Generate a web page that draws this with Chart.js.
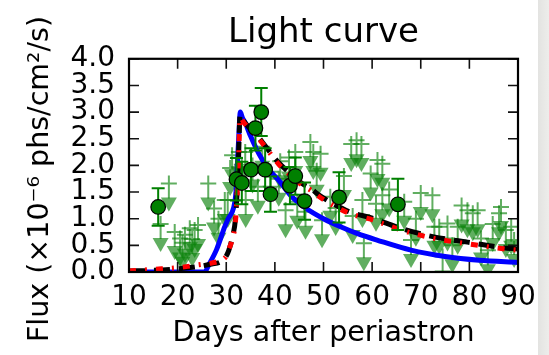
<!DOCTYPE html>
<html>
<head>
<meta charset="utf-8">
<script src="https://cdn.jsdelivr.net/npm/chart.js@4.4.1/dist/chart.umd.min.js"></script>
<style>
  html, body { margin: 0; padding: 0; }
  body {
    width: 549px; height: 355px; overflow: hidden;
    background: linear-gradient(to right, #fff 0, #fff 538px, #e3e3e1 538px, #ededeb 549px);
  }
  #wrap { position: relative; width: 549px; height: 355px; }
</style>
</head>
<body>
<div id="wrap"><canvas id="lc" width="549" height="355"></canvas></div>
<script>
// Light curve: detections (circles), upper limits (arrows) and three model curves

const xTicks = [10, 20, 30, 40, 50, 60, 70, 80, 90];
const yTicks = [0, 0.5, 1.0, 1.5, 2.0, 2.5, 3.0, 3.5, 4.0];

// detections
const detDays = [16.0, 32.1, 33.2, 35.1, 36.0, 37.2, 38.0, 39.1, 43.1, 44.2, 46.1, 53.2, 65.3];
const detFlux = [1.22, 1.74, 1.67, 1.92, 2.70, 3.00, 1.92, 1.46, 1.62, 1.80, 1.33, 1.40, 1.27];
const detErr  = [0.35, 0.40, 0.40, 0.40, 0.42, 0.45, 0.40, 0.33, 0.35, 0.35, 0.35, 0.47, 0.48];

// upper limits
const ulDays = [16.5, 18.2, 19.4, 20.5, 21.0, 21.5, 22.5, 23.0, 23.5, 24.2, 26.3, 27.5, 28.4, 29.7,
  30.3, 30.8, 31.2, 32.6, 33.2, 33.9, 34.0, 35.4, 36.5, 37.4, 39.1, 40.8, 41.1, 42.2, 42.9, 44.2,
  44.6, 46.3, 47.3, 47.9, 48.6, 49.4, 49.7, 51.4, 52.5, 54.2, 55.7, 56.0, 56.8, 57.8, 58.0, 58.3,
  59.7, 60.8, 61.1, 62.1, 62.1, 63.5, 66.6, 68.0, 69.0, 70.0, 72.4, 72.8, 73.8, 74.5, 75.5, 76.5,
  77.6, 78.4, 79.6, 80.7, 81.7, 82.4, 83.8, 84.8, 86.1, 86.5, 87.5, 88.6, 89.2];
const ulFlux = [0.90, 1.66, 0.75, 0.63, 0.55, 0.70, 0.82, 0.62, 0.79, 0.88, 1.66, 1.19, 1.00, 1.35,
  1.35, 1.95, 2.19, 2.25, 2.01, 2.25, 1.35, 2.00, 1.60, 2.35, 1.88, 1.75, 2.08, 1.16, 2.15, 2.25,
  1.32, 1.13, 2.44, 2.25, 1.90, 2.22, 0.97, 1.41, 1.20, 1.80, 2.40, 1.05, 2.47, 2.40, 1.35, 0.54,
  1.85, 1.28, 2.10, 2.03, 1.44, 1.55, 1.32, 0.60, 1.00, 1.48, 1.44, 0.85, 0.85, 0.29, 0.91, 0.50,
  0.85, 1.25, 1.16, 1.10, 1.16, 0.63, 0.41, 0.90, 1.10, 1.22, 0.79, 0.85, 0.60];

// model curves
const blueDays = [10, 20, 25.5, 26.5, 28, 29.7, 30.4, 31.5, 32.0, 32.5, 32.9, 33.3, 33.9, 35, 36.7,
  38.5, 40.8, 43.5, 46.3, 50, 54, 57, 61, 68, 75, 82, 90];
const blueFlux = [0, 0, 0, 0.15, 0.42, 0.85, 1.0, 1.2, 1.5, 2.4, 3.0, 2.9, 2.8, 2.55, 2.22,
  1.95, 1.72, 1.41, 1.2, 1.0, 0.83, 0.72, 0.6, 0.41, 0.29, 0.22, 0.18];

const blackDays = [10, 15, 20, 24, 27, 29, 30, 30.5, 31.2, 31.9, 32.2, 32.5, 32.85, 33.5, 34.6,
  36, 37.4, 39.4, 40.8, 43, 45.6, 47.3, 49, 52, 55.6, 59.7, 65.9, 72.7, 79.6, 86.6, 90];
const blackFlux = [0.02, 0.03, 0.06, 0.1, 0.15, 0.2, 0.3, 0.4, 0.63, 1.0, 1.44, 2.07, 2.95, 2.85, 2.72,
  2.6, 2.44, 2.2, 2.05, 1.86, 1.66, 1.57, 1.45, 1.28, 1.12, 1.02, 0.82, 0.66, 0.56, 0.46, 0.43];

const redDays = [10, 15, 20, 24, 27, 29, 30, 30.5, 31.2, 31.9, 32.2, 32.5, 32.85, 33.5, 34.6,
  36, 37.4, 39.4, 40.8, 43, 45.6, 47.3, 49, 52, 55.6, 59.7, 65.9, 72.7, 79.6, 86.6, 90];
const redFlux = [0.02, 0.05, 0.08, 0.13, 0.17, 0.22, 0.3, 0.42, 0.6, 0.95, 1.4, 2.0, 2.9, 2.82, 2.7,
  2.57, 2.42, 2.18, 2.02, 1.83, 1.63, 1.54, 1.42, 1.25, 1.09, 0.99, 0.79, 0.63, 0.53, 0.44, 0.41];

const zip = (xs, ys) => xs.map((x, i) => ({ x, y: ys[i] }));

Chart.defaults.font.family = "'DejaVu Sans', sans-serif";
Chart.defaults.color = '#000';

const ulGreen = 'rgba(10, 130, 10, 0.65)';
const CIRCLES = 0;

const glyphs = {
  id: 'glyphs',
  beforeDatasetsDraw(chart) {
    const { ctx, chartArea: a, scales: { x, y } } = chart;
    ctx.save();
    ctx.beginPath();
    ctx.rect(a.left, a.top, a.right - a.left, a.bottom - a.top);
    ctx.clip();
    ctx.strokeStyle = ulGreen;
    ctx.fillStyle = ulGreen;
    ctx.lineWidth = 2;
    ulDays.forEach((d, i) => {
      const px = x.getPixelForValue(d);
      const py = y.getPixelForValue(ulFlux[i]);
      ctx.beginPath();
      ctx.moveTo(px - 8, py); ctx.lineTo(px + 8, py);
      ctx.moveTo(px, py - 8); ctx.lineTo(px, py + 15);
      ctx.stroke();
      ctx.beginPath();
      ctx.moveTo(px - 8, py + 14);
      ctx.lineTo(px + 8, py + 14);
      ctx.lineTo(px, py + 28);
      ctx.closePath();
      ctx.fill();
    });
    ctx.restore();
  },
  beforeDatasetDraw(chart, args) {
    if (args.index !== CIRCLES) return;
    const { ctx, scales: { x, y } } = chart;
    ctx.save();
    ctx.strokeStyle = '#008000';
    ctx.lineWidth = 2;
    detDays.forEach((d, i) => {
      const px = x.getPixelForValue(d);
      const top = y.getPixelForValue(detFlux[i] + detErr[i]);
      const bot = y.getPixelForValue(detFlux[i] - detErr[i]);
      ctx.beginPath();
      ctx.moveTo(px, top); ctx.lineTo(px, bot);
      ctx.moveTo(px - 6.5, top); ctx.lineTo(px + 6.5, top);
      ctx.moveTo(px - 6.5, bot); ctx.lineTo(px + 6.5, bot);
      ctx.stroke();
    });
    ctx.restore();
  },
  afterDraw(chart) {
    const { ctx, chartArea: a, scales: { x, y } } = chart;
    ctx.save();
    ctx.strokeStyle = '#111';
    ctx.lineWidth = 1.6;
    ctx.beginPath();
    xTicks.forEach(v => {
      const px = x.getPixelForValue(v);
      ctx.moveTo(px, a.bottom); ctx.lineTo(px, a.bottom - 10);
      ctx.moveTo(px, a.top); ctx.lineTo(px, a.top + 10);
    });
    yTicks.forEach(v => {
      const py = y.getPixelForValue(v);
      ctx.moveTo(a.left, py); ctx.lineTo(a.left + 10, py);
      ctx.moveTo(a.right, py); ctx.lineTo(a.right - 10, py);
    });
    ctx.stroke();
    ctx.strokeStyle = '#000';
    ctx.lineWidth = 2.2;
    ctx.strokeRect(a.left, a.top, a.right - a.left, a.bottom - a.top);
    ctx.restore();
  }
};

const lineBase = { type: 'line', pointRadius: 0, borderWidth: 5, fill: false, cubicInterpolationMode: 'monotone' };

new Chart(document.getElementById('lc'), {
  type: 'scatter',
  data: {
    datasets: [
      {
        label: 'Detections', data: zip(detDays, detFlux), order: 0,
        pointRadius: 7.3, pointBackgroundColor: '#008000', pointBorderColor: '#000', pointBorderWidth: 1.2
      },
      { ...lineBase, label: 'Model 3', data: zip(redDays, redFlux), order: 1,
        borderColor: '#ff0000', borderDash: [7, 9, 2, 9] },
      { ...lineBase, label: 'Model 2', data: zip(blackDays, blackFlux), order: 2,
        borderColor: '#000', borderDash: [16, 9] },
      { ...lineBase, label: 'Model 1', data: zip(blueDays, blueFlux), order: 3,
        borderColor: '#0000ff' }
    ]
  },
  options: {
    responsive: false,
    animation: false,
    events: [],
    layout: { padding: { left: 0, right: 31, top: 0, bottom: 0 } },
    plugins: {
      legend: { display: false },
      tooltip: { enabled: false },
      title: {
        display: true, text: 'Light curve', fullSize: false, color: '#000',
        font: { size: 34, weight: 'normal' }, padding: { top: 13, bottom: 5 }
      }
    },
    scales: {
      x: {
        type: 'linear', min: 10, max: 90,
        afterBuildTicks: s => { s.ticks = xTicks.map(v => ({ value: v })); },
        afterFit: s => { s.height = 83; },
        grid: { display: false, drawTicks: false },
        border: { display: false },
        ticks: { font: { size: 28 }, padding: 9, maxRotation: 0, autoSkip: false, color: '#000' },
        title: { display: true, text: 'Days after periastron', font: { size: 28.5 }, padding: { top: 0, bottom: 4 } }
      },
      y: {
        type: 'linear', min: 0, max: 4,
        afterBuildTicks: s => { s.ticks = yTicks.map(v => ({ value: v })); },
        afterFit: s => { s.width = 129; },
        grid: { display: false, drawTicks: false },
        border: { display: false },
        ticks: { font: { size: 28 }, padding: 14, autoSkip: false, color: '#000', callback: v => v.toFixed(1) },
        title: { display: true, text: 'Flux (×10⁻⁶ phs/cm²/s)   ', font: { size: 28.5 }, padding: { top: 23, bottom: 0 } }
      }
    }
  },
  plugins: [glyphs]
});
</script>
</body>
</html>
